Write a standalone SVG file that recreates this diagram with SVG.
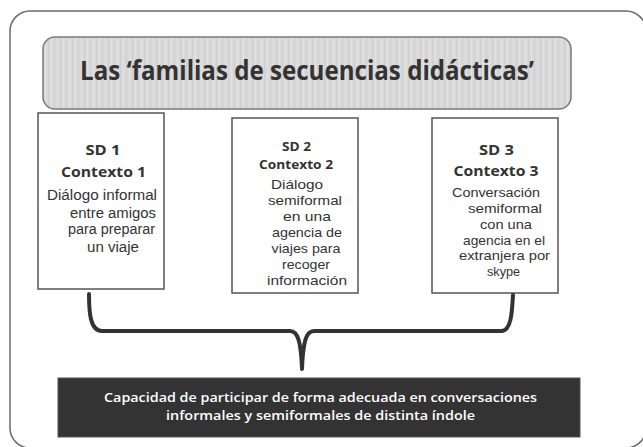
<svg xmlns="http://www.w3.org/2000/svg" width="643" height="447" viewBox="0 0 643 447">
<defs>
<pattern id="stripes" width="6" height="10" patternUnits="userSpaceOnUse">
<rect width="6" height="10" fill="#d9d9d9"/>
<rect x="0" width="1" height="10" fill="#cfcfcf"/>
<rect x="3" width="1" height="10" fill="#e2e2e2"/>
</pattern>
</defs>
<style>
.frame{fill:#fff;stroke:#6a6a6a;stroke-width:1.5}
.banner{fill:url(#stripes);stroke:#7a7a7a;stroke-width:1.5}
.box{fill:#fff;stroke:#555;stroke-width:1.5}
.t{font-family:"Open Sans","Liberation Sans",sans-serif;fill:#333;text-anchor:middle}
.b{font-weight:bold}
.title{font-size:26px;font-weight:bold;fill:#333}
.h1{font-size:15px}
.h2{font-size:13px}
.p1{font-family:"Liberation Sans",Arial,sans-serif;font-size:14px}
.p2{font-family:"Liberation Sans",Arial,sans-serif;font-size:13px}
.dark{fill:#333;stroke:#555;stroke-width:1}
.w{fill:#fff;font-size:13px;font-weight:600}
.brace{fill:none;stroke:#333;stroke-width:4;stroke-linecap:round;stroke-linejoin:round}
</style>
<rect class="frame" x="10" y="11" width="636" height="437" rx="20"/>
<g id="banner">
<rect class="banner" x="43" y="37" width="528" height="72" rx="12"/>
<text class="t title" x="307" y="80" textLength="454" lengthAdjust="spacingAndGlyphs">Las ‘familias de secuencias didácticas’</text>
</g>
<g id="sd1">
<rect class="box" x="38" y="113" width="126" height="176"/>
<text class="t b h1" x="103" y="155" textLength="35" lengthAdjust="spacingAndGlyphs">SD 1</text>
<text class="t b h1" x="103.5" y="177" textLength="85" lengthAdjust="spacingAndGlyphs">Contexto 1</text>
<text class="t p1" x="102" y="200" textLength="110" lengthAdjust="spacingAndGlyphs">Diálogo informal</text>
<text class="t p1" x="113" y="218" textLength="86" lengthAdjust="spacingAndGlyphs">entre amigos</text>
<text class="t p1" x="111.5" y="234" textLength="87" lengthAdjust="spacingAndGlyphs">para preparar</text>
<text class="t p1" x="113" y="252" textLength="52" lengthAdjust="spacingAndGlyphs">un viaje</text>
</g>
<g id="sd2">
<rect class="box" x="232" y="118" width="126" height="175"/>
<text class="t b h2" x="296.5" y="151" textLength="29" lengthAdjust="spacingAndGlyphs">SD 2</text>
<text class="t b h2" x="296" y="169" textLength="74" lengthAdjust="spacingAndGlyphs">Contexto 2</text>
<text class="t p2" x="297" y="189" textLength="52" lengthAdjust="spacingAndGlyphs">Diálogo</text>
<text class="t p2" x="305" y="205" textLength="74" lengthAdjust="spacingAndGlyphs">semiformal</text>
<text class="t p2" x="307" y="221" textLength="48" lengthAdjust="spacingAndGlyphs">en una</text>
<text class="t p2" x="307" y="237" textLength="70" lengthAdjust="spacingAndGlyphs">agencia de</text>
<text class="t p2" x="306" y="253" textLength="69" lengthAdjust="spacingAndGlyphs">viajes para</text>
<text class="t p2" x="306" y="268.5" textLength="48" lengthAdjust="spacingAndGlyphs">recoger</text>
<text class="t p2" x="307" y="284.5" textLength="80" lengthAdjust="spacingAndGlyphs">información</text>
</g>
<g id="sd3">
<rect class="box" x="432" y="118" width="126" height="175"/>
<text class="t b h1" x="496.5" y="155" textLength="35" lengthAdjust="spacingAndGlyphs">SD 3</text>
<text class="t b h1" x="496" y="176" textLength="85" lengthAdjust="spacingAndGlyphs">Contexto 3</text>
<text class="t p2" x="496" y="197" textLength="88" lengthAdjust="spacingAndGlyphs">Conversación</text>
<text class="t p2" x="505" y="213" textLength="74" lengthAdjust="spacingAndGlyphs">semiformal</text>
<text class="t p2" x="506" y="228.5" textLength="52" lengthAdjust="spacingAndGlyphs">con una</text>
<text class="t p2" x="504" y="244.5" textLength="82" lengthAdjust="spacingAndGlyphs">agencia en el</text>
<text class="t p2" x="504.5" y="260" textLength="91" lengthAdjust="spacingAndGlyphs">extranjera por</text>
<text class="t p2" x="503.5" y="275.5" textLength="33" lengthAdjust="spacingAndGlyphs">skype</text>
</g>
<g id="connectors">
<path class="brace" d="M89,294 C89,312 90,331 102,331 L290,331 C298,331 301,342 302,369 C303,342 306,331 314,331 L501,331 C511,331 512,314 513,295"/>
</g>
<g id="result">
<rect class="dark" x="58" y="378" width="522" height="59"/>
<text class="t w" x="320.5" y="402" textLength="433" lengthAdjust="spacingAndGlyphs">Capacidad de  participar de forma adecuada en conversaciones</text>
<text class="t w" x="320.5" y="420" textLength="309" lengthAdjust="spacingAndGlyphs">informales y semiformales  de distinta índole</text>
</g>
</svg>
